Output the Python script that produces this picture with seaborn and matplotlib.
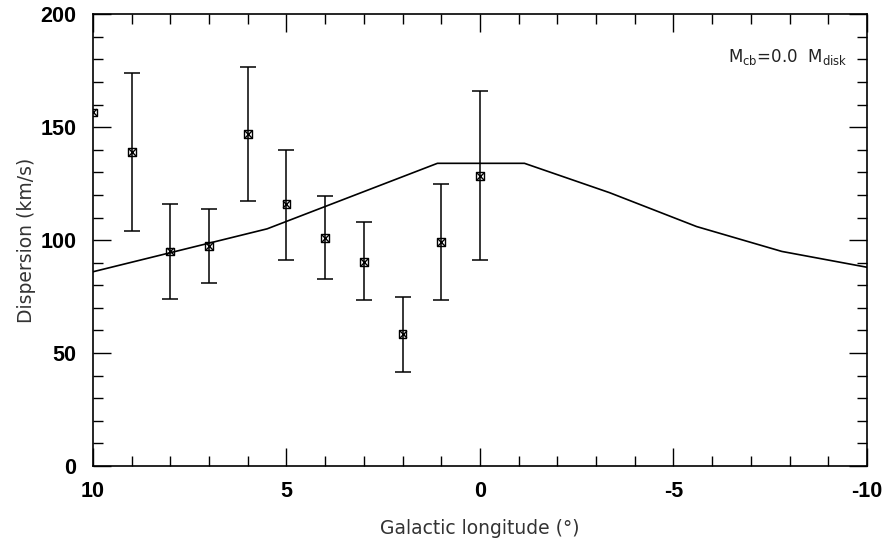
import numpy as np
import pandas as pd
import matplotlib
matplotlib.use("Agg")
import matplotlib.pyplot as plt
import seaborn as sns
from matplotlib.ticker import MultipleLocator

# observed dispersion per field (first field has no visible error bar)
obs_l = [10, 9, 8, 7, 6, 5, 4, 3, 2, 1, 0]
obs_disp = [156.5, 139, 95, 97.5, 147, 116, 101, 90.5, 58.5, 99, 128.5]
obs_lo = [np.nan, 104, 74, 81, 117.5, 91, 83, 73.5, 41.5, 73.5, 91]
obs_hi = [np.nan, 174, 116, 114, 176.5, 140, 119.5, 108, 75, 125, 166]

# model curve (M_cb = 0)
model_l = [10, 5.5, 1.1, -1.15, -3.35, -5.6, -7.8, -10]
model_disp = [86, 105, 134, 134, 121, 106, 95, 88]

sns.set_style("ticks")
plt.rcParams["font.family"] = ["DejaVu Sans"]
plt.rcParams["axes.unicode_minus"] = False

fig = plt.figure(figsize=(8.88, 5.47), dpi=100)
ax = fig.add_axes([0.1047, 0.148, 0.8716, 0.826])

model = pd.DataFrame({"l": model_l, "disp": model_disp})
sns.lineplot(data=model, x="l", y="disp", ax=ax, color="black", lw=1.2,
             sort=False, estimator=None)

obs = pd.DataFrame({"l": obs_l, "disp": obs_disp, "lo": obs_lo, "hi": obs_hi})
eb = obs.dropna()
yerr = np.vstack([eb["disp"] - eb["lo"], eb["hi"] - eb["disp"]])
ax.errorbar(eb["l"], eb["disp"], yerr=yerr, fmt="none", ecolor="black",
            elinewidth=1.1, capsize=6, capthick=1.1)
sns.scatterplot(data=obs, x="l", y="disp", ax=ax, marker="s", s=32,
                facecolor="none", edgecolor="black", linewidth=1.0, zorder=5)
sns.scatterplot(data=obs, x="l", y="disp", ax=ax, marker="x", s=24,
                color="black", linewidth=1.0, zorder=6)

ax.set_xlim(10, -10)
ax.set_ylim(0, 200)
ax.xaxis.set_major_locator(MultipleLocator(5))
ax.xaxis.set_minor_locator(MultipleLocator(1))
ax.yaxis.set_major_locator(MultipleLocator(50))
ax.yaxis.set_minor_locator(MultipleLocator(10))
ax.tick_params(which="both", direction="in", top=True, right=True,
               color="black", width=1.0, labelcolor="black")
ax.tick_params(which="major", length=13, labelsize=15.5)
ax.tick_params(axis="x", which="major", pad=11)
ax.tick_params(axis="y", which="major", pad=12)
ax.tick_params(which="minor", length=7)
for lab in ax.get_xticklabels() + ax.get_yticklabels():
    lab.set_fontweight("bold")
    lab.set_family("Liberation Sans")
for sp in ax.spines.values():
    sp.set_color("black")
    sp.set_linewidth(1.2)

ax.set_xlabel("Galactic longitude (°)", fontsize=13.5, color="#333333",
              labelpad=12)
ax.set_ylabel("Dispersion (km/s)", fontsize=13.5, color="#333333",
              labelpad=3)
ax.text(0.975, 0.905, r"M$_{\rm cb}$=0.0  M$_{\rm disk}$", transform=ax.transAxes,
        ha="right", va="center", fontsize=12, color="#222222")

fig.savefig("out.png", dpi=100)
